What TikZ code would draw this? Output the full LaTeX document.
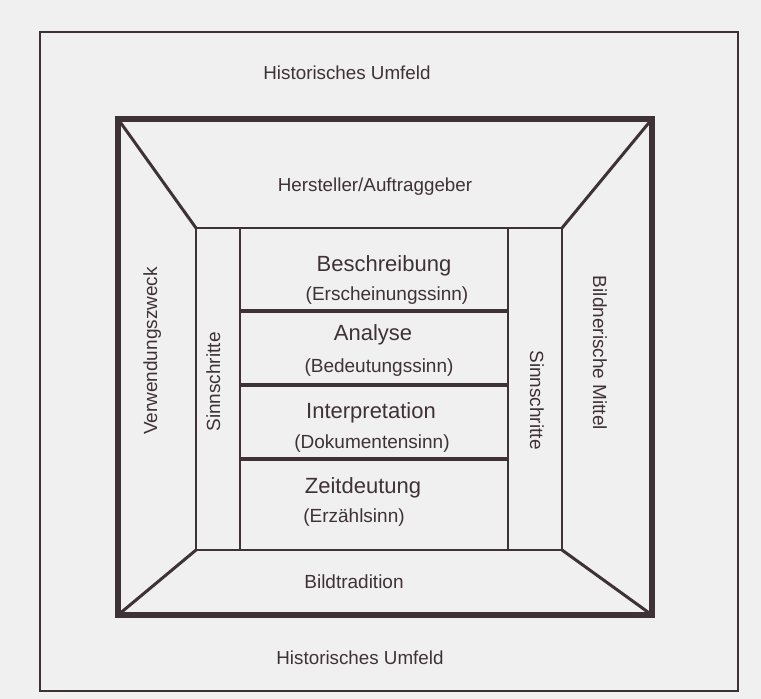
\documentclass[tikz,border=0pt]{standalone}
\usepackage{fontspec}
\setmainfont{Liberation Sans}
\usepackage{tikz}
\usetikzlibrary{positioning,calc}
\definecolor{PInk}{RGB}{62,50,55}
\definecolor{PPaper}{RGB}{241,240,240}

\begin{document}
\begin{tikzpicture}[x=1pt, y=-1pt,
    frame/.style={rectangle, draw=PInk, outer sep=0pt, inner sep=0pt},
    row/.style={rectangle, outer sep=0pt, inner sep=0pt, minimum width=268pt},
    field/.style={text=PInk, font=\fontsize{18.8}{21}\selectfont, anchor=base, inner sep=0pt},
    stage/.style={text=PInk, font=\fontsize{22}{24}\selectfont, anchor=base, inner sep=0pt},
    sense/.style={text=PInk, font=\fontsize{19}{21}\selectfont, anchor=base, inner sep=0pt},
    diag/.style={draw=PInk, line width=3pt},
    divider/.style={draw=PInk, line width=3.5pt}
]
    \fill[PPaper] (0,0) rectangle (761,699);
    \useasboundingbox (0,0) rectangle (761,699);

    % Frames
    \node[frame, line width=2.5pt, minimum width=698pt, minimum height=659pt] (outer) at (389,361.5) {};
    \node[frame, line width=5.5pt, minimum width=534pt, minimum height=496pt] (inner) at (385,367) {};
    \node[frame, line width=2pt, minimum width=44pt, minimum height=322pt] (leftcol) at (218,389) {};
    \node[frame, line width=2pt, minimum width=54pt, minimum height=322pt] (rightcol) at (535,389) {};
    \node[frame, line width=2pt, minimum width=268pt, minimum height=322pt] (core) at (374,389) {};

    % Rows of the core
    \node[row, minimum height=83pt] (row1) at (374,269.5) {};
    \node[row, minimum height=74pt, below=0pt of row1] (row2) {};
    \node[row, minimum height=74pt, below=0pt of row2] (row3) {};
    \node[row, minimum height=91pt, below=0pt of row3] (row4) {};
    \draw[divider] (row1.south west) -- (row1.south east);
    \draw[divider] (row2.south west) -- (row2.south east);
    \draw[divider] (row3.south west) -- (row3.south east);

    % Corner lines
    \draw[diag] (inner.north west) -- (leftcol.north west);
    \draw[diag] (inner.north east) -- (rightcol.north east);
    \draw[diag] (inner.south west) -- (leftcol.south west);
    \draw[diag] (inner.south east) -- (rightcol.south east);

    % Texts
    \node[field] (histtop) at (347,79) {Historisches Umfeld};
    \node[field] (hersteller) at (375,191) {Hersteller/Auftraggeber};
    \node[stage] (beschr) at (384,271) {Beschreibung};
    \node[sense] (erschein) at (387,300) {(Erscheinungssinn)};
    \node[stage] (analyse) at (373,340) {Analyse};
    \node[sense] (bedeut) at (379,372) {(Bedeutungssinn)};
    \node[stage] (interp) at (371,418) {Interpretation};
    \node[sense] (dokum) at (372,448) {(Dokumentensinn)};
    \node[stage] (zeit) at (363,493) {Zeitdeutung};
    \node[sense] (erzaehl) at (354,522) {(Erzählsinn)};
    \node[sense] (tradition) at (354,588) {Bildtradition};
    \node[field] (histbot) at (360,664) {Historisches Umfeld};
    \node[sense, rotate=90] (zweck) at (157,351) {Verwendungszweck};
    \node[sense, rotate=90] (sinnl) at (220,382) {Sinnschritte};
    \node[sense, rotate=-90] (mittel) at (593,353) {Bildnerische Mittel};
    \node[sense, rotate=-90] (sinnr) at (530,400) {Sinnschritte};
\end{tikzpicture}
\end{document}
